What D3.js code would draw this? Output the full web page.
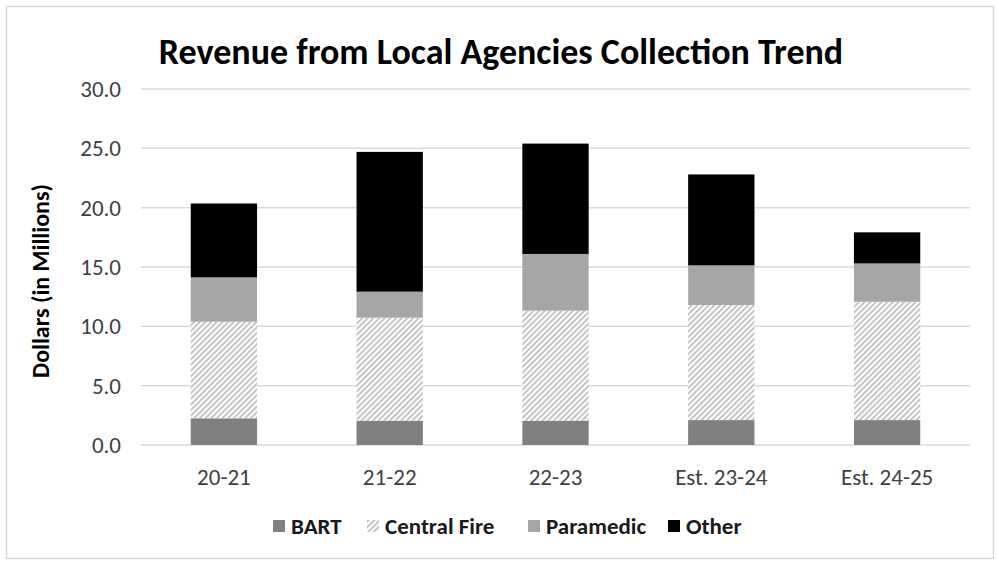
<!DOCTYPE html>
<html>
<head>
<meta charset="utf-8">
<script src="https://cdn.jsdelivr.net/npm/d3@7"></script>
<style>
  body { margin: 0; background: #fff; }
  text { font-family: Carlito, "Open Sans", "Noto Sans", sans-serif; }
</style>
</head>
<body>
<div class="chart"></div>
<script>
// values, in millions
const years = ['20-21', '21-22', '22-23', 'Est. 23-24', 'Est. 24-25'];
const bart = [2.25, 2.05, 2.05, 2.1, 2.1];
const centralFire = [8.14, 8.68, 9.27, 9.7, 9.97];
const paramedic = [3.74, 2.19, 4.78, 3.34, 3.23];
const other = [6.22, 11.78, 9.3, 7.66, 2.62];
const yTicks = [0, 5, 10, 15, 20, 25, 30];

const seriesNames = ['BART', 'Central Fire', 'Paramedic', 'Other'];

const w = 997, h = 562;
const margin = {top: 89, right: 27, bottom: 117, left: 141};

const rows = years.map((y, i) => ({
  year: y,
  'BART': bart[i],
  'Central Fire': centralFire[i],
  'Paramedic': paramedic[i],
  'Other': other[i]
}));

const stack = d3.stack().keys(seriesNames)(rows);

const fills = {
  'BART': '#808080',
  'Central Fire': 'url(#hatch)',
  'Paramedic': '#a6a6a6',
  'Other': '#000000'
};

const svg = d3.select('.chart')
  .append('svg')
  .attr('width', w)
  .attr('height', h);

// hatch pattern for central fire
const pat = svg.append('defs')
  .append('pattern')
  .attr('id', 'hatch')
  .attr('patternUnits', 'userSpaceOnUse')
  .attr('width', 4)
  .attr('height', 4)
  .attr('patternTransform', 'rotate(45)');
pat.append('rect').attr('width', 4).attr('height', 4).attr('fill', '#fff');
pat.append('rect').attr('width', 2).attr('height', 4).attr('fill', '#c4c4c4');

// chart frame
svg.append('rect')
  .attr('x', 6.5).attr('y', 6.5)
  .attr('width', w - 10).attr('height', h - 10)
  .attr('fill', 'none')
  .attr('stroke', '#d9d9d9')
  .attr('stroke-width', 1.5);

const x = d3.scaleBand()
  .domain(years)
  .range([margin.left, w - margin.right])
  .paddingInner(0.6)
  .paddingOuter(0.3);

const y = d3.scaleLinear()
  .domain([0, 30])
  .range([h - margin.bottom, margin.top]);

// gridlines
svg.append('g')
  .selectAll('line')
  .data(yTicks)
  .enter()
  .append('line')
  .attr('x1', margin.left)
  .attr('x2', w - margin.right)
  .attr('y1', d => y(d))
  .attr('y2', d => y(d))
  .attr('stroke', '#d9d9d9')
  .attr('stroke-width', 1.5);

// y axis labels
const yAxis = svg.append('g')
  .attr('transform', `translate(${margin.left - 20},0)`)
  .call(d3.axisLeft(y).tickValues(yTicks).tickFormat(d3.format('.1f')).tickSize(0));
yAxis.select('.domain').remove();
yAxis.selectAll('text')
  .attr('x', 0)
  .style('font-size', '23px')
  .attr('fill', '#404040');

// bars
svg.append('g')
  .selectAll('g')
  .data(stack)
  .enter()
  .append('g')
  .attr('fill', d => fills[d.key])
  .selectAll('rect')
  .data(d => d)
  .enter()
  .append('rect')
  .attr('x', d => x(d.data.year))
  .attr('width', x.bandwidth())
  .attr('y', d => y(d[1]))
  .attr('height', d => y(d[0]) - y(d[1]));

// x axis labels
const xAxis = svg.append('g')
  .attr('transform', `translate(0,${h - margin.bottom})`)
  .call(d3.axisBottom(x).tickSize(0));
xAxis.select('.domain').remove();
xAxis.selectAll('text')
  .attr('y', 40)
  .attr('dy', 0)
  .style('font-size', '23px')
  .attr('fill', '#404040');

// title
svg.append('text')
  .attr('x', 501)
  .attr('y', 64)
  .attr('text-anchor', 'middle')
  .style('font-size', '36px')
  .style('font-weight', 'bold')
  .attr('fill', '#000')
  .text('Revenue from Local Agencies Collection Trend');

// y axis title
svg.append('text')
  .attr('transform', 'translate(49,281) rotate(-90)')
  .attr('text-anchor', 'middle')
  .style('font-size', '24px')
  .style('font-weight', 'bold')
  .attr('fill', '#000')
  .text('Dollars (in Millions)');

// legend
const legendX = [273, 367, 528, 668];
const legend = svg.append('g')
  .selectAll('g')
  .data(seriesNames)
  .enter()
  .append('g')
  .attr('transform', (d, i) => `translate(${legendX[i]},526)`);

legend.append('rect')
  .attr('x', 0)
  .attr('y', -6)
  .attr('width', 12)
  .attr('height', 12)
  .attr('fill', d => fills[d]);

legend.append('text')
  .attr('x', 18)
  .attr('y', 8)
  .style('font-size', '23px')
  .style('font-weight', 'bold')
  .attr('fill', '#1a1a1a')
  .text(d => d);
</script>
</body>
</html>
